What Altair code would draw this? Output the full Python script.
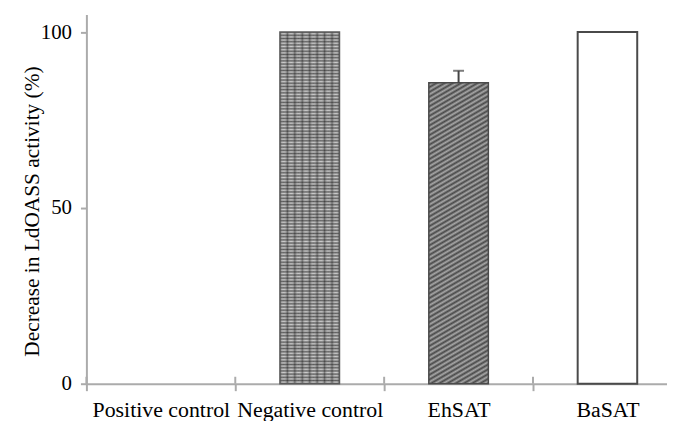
import altair as alt
import pandas as pd

categories = ["Positive control", "Negative control", "EhSAT", "BaSAT"]
values = [0, 100, 85.6, 100]
errors = [0, 0, 3.4, 0]
y_ticks = [0, 50, 100]

df = pd.DataFrame({"group": categories, "value": values, "err": errors})
df["upper"] = df["value"] + df["err"]


def stripes(n, c1, c2):
    stops = []
    for i in range(n):
        stops += [
            {"offset": i / n, "color": c1},
            {"offset": (i + 0.5) / n, "color": c2},
        ]
    stops.append({"offset": 1.0, "color": c1})
    return stops


grad_h = {"gradient": "linear", "x1": 0, "y1": 0, "x2": 0, "y2": 1,
          "stops": stripes(110, "#595959", "#cccccc")}
grad_v = {"gradient": "linear", "x1": 0, "y1": 0, "x2": 1, "y2": 0,
          "stops": stripes(8, "rgba(40,40,40,0.5)", "rgba(220,220,220,0.0)")}
grad_d = {"gradient": "linear", "x1": 0, "y1": 0, "x2": 0.127, "y2": 1.1,
          "stops": stripes(70, "#484848", "#a8a8a8")}

W, H = 585, 372
font = "Liberation Serif"
gray = "#ababab"

xscale = alt.Scale(domain=categories, range=[0, 600], paddingInner=0, paddingOuter=0)
yscale = alt.Scale(domain=[0, 105], nice=False)

xaxis = alt.Axis(title=None, tickBand="extent", tickSize=7, labelPadding=9,
                 labelAngle=0, labelFontSize=22, grid=False, labelFont=font,
                 labelColor="black")
yaxis = alt.Axis(title="Decrease in LdOASS activity (%)", values=y_ticks,
                 tickSize=6, labelPadding=9, labelFontSize=21, grid=False,
                 labelFont=font, labelColor="black",
                 titleFontSize=21.5, titleFontWeight="normal", titleColor="black",
                 titleFont=font, titleX=-48, titleY=198, titleBaseline="alphabetic")

base = alt.Chart(df).encode(
    x=alt.X("group:N", sort=categories, scale=xscale, axis=xaxis),
    y=alt.Y("value:Q", scale=yscale, axis=yaxis),
)

neg_h = base.transform_filter(alt.datum.group == "Negative control").mark_bar(
    size=60, fill=grad_h)
neg_v = base.transform_filter(alt.datum.group == "Negative control").mark_bar(
    size=60, fill=grad_v, stroke="#5a5a5a", strokeWidth=1.5)
eh = base.transform_filter(alt.datum.group == "EhSAT").mark_bar(
    size=60, fill=grad_d, stroke="#4a4a4a", strokeWidth=1.5)
ba = base.transform_filter(alt.datum.group == "BaSAT").mark_bar(
    size=60, fill="white", stroke="#4a4a4a", strokeWidth=2)

err_line = alt.Chart(df).transform_filter(alt.datum.err > 0).mark_rule(
    color="#444444", strokeWidth=2).encode(
    x=alt.X("group:N", sort=categories, scale=xscale),
    y=alt.Y("value:Q", scale=yscale),
    y2="upper:Q",
)
err_cap = alt.Chart(df).transform_filter(alt.datum.err > 0).mark_tick(
    color="#444444", size=11, thickness=2, orient="horizontal").encode(
    x=alt.X("group:N", sort=categories, scale=xscale),
    y=alt.Y("upper:Q", scale=yscale),
)

tick_up = alt.Chart(df).mark_rule(color=gray, strokeWidth=2).encode(
    x=alt.X("group:N", sort=categories, scale=xscale, bandPosition=0),
    y=alt.value(H - 7),
    y2=alt.value(H),
)

chart = alt.layer(neg_h, neg_v, eh, ba, err_line, err_cap, tick_up).properties(
    width=W, height=H,
    background="white",
    autosize=alt.AutoSizeParams(type="none"),
    padding={"left": 79, "top": 5, "right": 0, "bottom": 36},
).configure_view(stroke=None).configure_axis(
    domainColor=gray, domainWidth=2, tickColor=gray, tickWidth=2,
    labelFont=font, labelColor="black", grid=False,
)

chart.save("out.html", embed_options={"renderer": "svg", "actions": False})
